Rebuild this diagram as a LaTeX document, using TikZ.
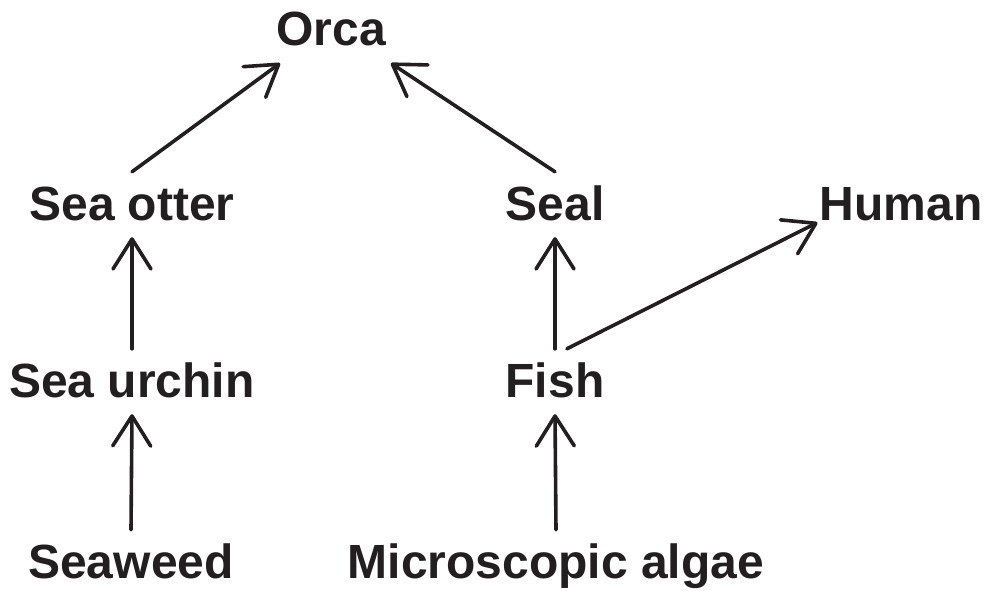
\documentclass[tikz,border=0pt]{standalone}
\usepackage{fontspec}
\setmainfont{Liberation Sans}
\usetikzlibrary{arrows.meta}
\definecolor{inkblack}{HTML}{231F20}
\tikzset{
    species/.style={
        font=\bfseries\fontsize{48}{58}\selectfont, color=inkblack,
        anchor=base, text height=34pt, text depth=3pt,
        inner xsep=2pt, inner ysep=14pt
    },
    eats/.style={
        line width=3.6pt, color=inkblack, line cap=round,
        -{Straight Barb[length=30pt,width=38pt,line cap=round,line join=round]}
    }
}
\begin{document}
\begin{tikzpicture}[x=1pt,y=-1pt]

\useasboundingbox (0,0) rectangle (985,591);

% top level
\node[species] (orca) at (331,46) {Orca};

% second row
\node[species] (otter) at (132,220) {Sea otter};
\node[species] (seal) at (555,220) {Seal};
\node[species] (human) at (901,220) {Human};

% third row
\node[species] (urchin) at (132,397) {Sea urchin};
\node[species] (fish) at (555,397) {Fish};

% producers
\node[species] (seaweed) at (131,578) {Seaweed};
\node[species] (algae) at (556,578) {Microscopic algae};

% who is eaten by whom
\draw[eats] (otter.north) -- ([xshift=6pt]orca.south west);
\draw[eats] (seal.north) -- ([xshift=3pt]orca.south east);
\draw[eats] (urchin.north) -- (otter.south);
\draw[eats] (seaweed.north) -- (urchin.south);
\draw[eats] (fish.north) -- (seal.south);
\draw[eats] (algae.north) -- (fish.south);
\draw[eats] (fish.70) -- ([yshift=-18pt]human.west);

\end{tikzpicture}
\end{document}
